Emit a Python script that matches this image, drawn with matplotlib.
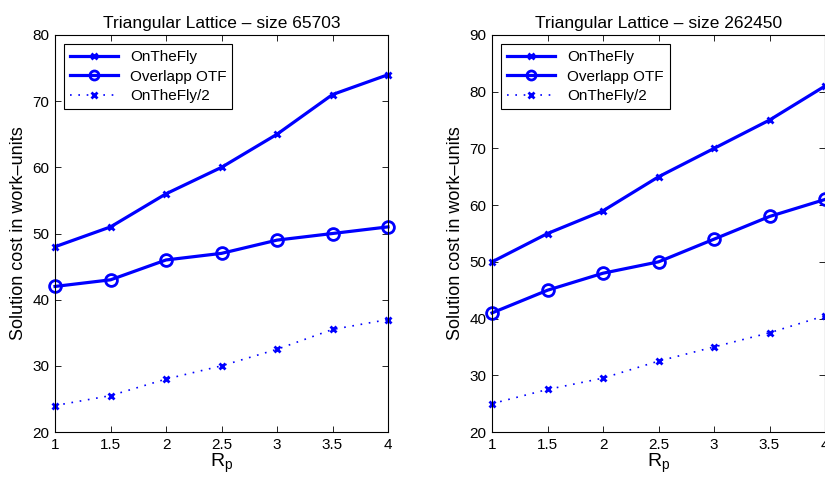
import matplotlib
matplotlib.use("Agg")
import matplotlib.pyplot as plt

plt.rcParams['font.family'] = ['Liberation Sans', 'DejaVu Sans']
plt.rcParams['mathtext.fontset'] = 'custom'
plt.rcParams['mathtext.rm'] = 'Liberation Sans'
plt.rcParams['mathtext.it'] = 'Liberation Sans'

rp = [1, 1.5, 2, 2.5, 3, 3.5, 4]
xticks = [1, 1.5, 2, 2.5, 3, 3.5, 4]
xticklabels = ['1', '1.5', '2', '2.5', '3', '3.5', '4']

titles = ['Triangular Lattice \u2013 size 65703', 'Triangular Lattice \u2013 size 262450']
otf_a = [48, 51, 56, 60, 65, 71, 74]
ovl_a = [42, 43, 46, 47, 49, 50, 51]
half_a = [24, 25.5, 28, 30, 32.5, 35.5, 37]
otf_b = [50, 55, 59, 65, 70, 75, 81]
ovl_b = [41, 45, 48, 50, 54, 58, 61]
half_b = [25, 27.5, 29.5, 32.5, 35, 37.5, 40.5]
ylims = [(20, 80), (20, 90)]
labels = ['OnTheFly', 'Overlapp OTF', 'OnTheFly/2']

fig = plt.figure(figsize=(8.25, 4.84), dpi=100)
axes = [fig.add_axes([0.0667, 0.1074, 0.4036, 0.8203]),
        fig.add_axes([0.5964, 0.1074, 0.4036, 0.8203])]
data = [(otf_a, ovl_a, half_a), (otf_b, ovl_b, half_b)]
blue = (0, 0, 1)
for ax, (otf, ovl, half), title, yl in zip(axes, data, titles, ylims):
    ax.plot(rp, otf, color=blue, lw=2.3, marker='x', ms=5, mew=2, label=labels[0], clip_on=False)
    ax.plot(rp, ovl, color=blue, lw=2.3, marker='o', ms=8.5, mew=2, mfc='none', label=labels[1], clip_on=False)
    ax.plot(rp, half, color=blue, lw=1.2, ls=(0, (1, 4)), marker='x', ms=5, mew=2, label=labels[2], clip_on=False)
    ax.set_xlim(1, 4)
    ax.set_ylim(*yl)
    ax.set_xticks(xticks)
    ax.set_xticklabels(xticklabels)
    ax.tick_params(direction='in', top=True, right=True, labelsize=11, length=4, width=0.6, pad=4)
    for s in ax.spines.values():
        s.set_linewidth(0.8)
    ax.set_title(title, fontsize=12.5, pad=5)
    ax.set_xlabel('R$_\\mathregular{p}$', fontsize=14, labelpad=0)
    ax.set_ylabel('Solution cost in work\u2013units', fontsize=13, labelpad=4)
    leg = ax.legend(loc='upper left', fontsize=11, fancybox=False, framealpha=1,
                    edgecolor='black', handlelength=3.1, borderaxespad=0.6,
                    labelspacing=0.35, borderpad=0.4)
    leg.get_frame().set_linewidth(0.8)
    hs = leg.legend_handles
    hs[1].set_markersize(6.5)

fig.savefig('out.png', dpi=100)
